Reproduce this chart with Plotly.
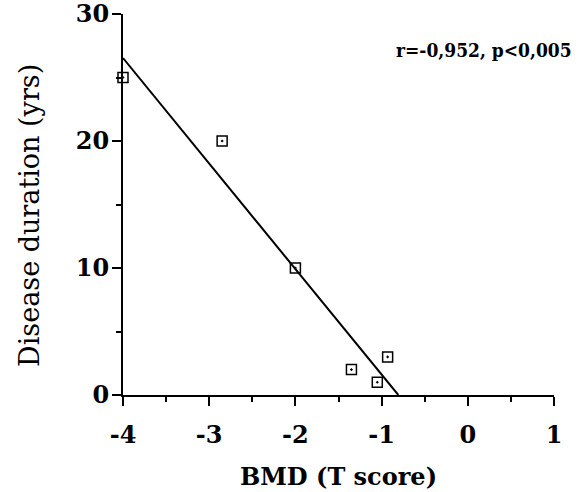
import numpy as np
import plotly.graph_objects as go

# Data
bmd_t_score = [-4.0, -2.85, -2.0, -1.35, -1.05, -0.93]
disease_duration = [25, 20, 10, 2, 1, 3]
x_tick_vals = [-4, -3, -2, -1, 0, 1]
y_tick_vals = [0, 10, 20, 30]
stats_text = "r=-0,952, p<0,005"
x_title = "BMD (T score)"
y_title = "Disease duration (yrs)"

# Least-squares regression line, drawn from x=-4 to where it crosses y=0
slope, intercept = np.polyfit(bmd_t_score, disease_duration, 1)
x0 = -4.0
x1 = -intercept / slope
line_x = [x0, x1]
line_y = [slope * x0 + intercept, 0.0]

FONT = "DejaVu Serif"

fig = go.Figure()
fig.add_trace(go.Scatter(
    x=line_x, y=line_y, mode="lines",
    line=dict(color="black", width=2),
    cliponaxis=False, hoverinfo="skip", showlegend=False,
))
fig.add_trace(go.Scatter(
    x=bmd_t_score, y=disease_duration, mode="markers",
    marker=dict(symbol="square-open-dot", size=10, color="black",
                line=dict(color="black", width=1.5)),
    cliponaxis=False, showlegend=False,
))

fig.add_annotation(
    x=1, y=0.905, xref="paper", yref="paper", xanchor="right", yanchor="middle",
    text=stats_text, showarrow=False,
    font=dict(family="DejaVu Serif Condensed", size=19, color="black", weight="bold"),
    xshift=20,
)

# Y-axis title as a rotated annotation (sits slightly below the axis centre)
fig.add_annotation(
    x=0, y=0.47, xref="paper", yref="paper", xanchor="center", yanchor="middle",
    text=y_title, textangle=-90, showarrow=False,
    font=dict(family=FONT, size=27, color="black", weight="normal"),
    xshift=-93,
)

axis_common = dict(
    showline=True, linecolor="black", linewidth=2,
    ticks="outside", ticklen=9, tickwidth=2, tickcolor="black",
    showgrid=False, zeroline=False, automargin=False, ticklabeloverflow="allow",
    tickfont=dict(family=FONT, size=24, color="black", weight="bold"),
)

fig.update_xaxes(
    range=[-4, 1], tickvals=x_tick_vals, ticktext=[str(v) for v in x_tick_vals],
    minor=dict(dtick=0.5, ticks="outside", ticklen=5, tickwidth=2, tickcolor="black"),
    title_text=x_title, title_standoff=20, ticklabelstandoff=8,
    title_font=dict(family=FONT, size=24, color="black", weight="bold"),
    **axis_common,
)
fig.update_yaxes(
    range=[0, 30], tickvals=y_tick_vals, ticktext=[str(v) for v in y_tick_vals],
    minor=dict(dtick=5, ticks="outside", ticklen=5, tickwidth=2, tickcolor="black"),
    ticklabelstandoff=-2,
    **axis_common,
)

fig.update_layout(
    width=578, height=492,
    margin=dict(l=123, r=24, t=14, b=97),
    plot_bgcolor="white", paper_bgcolor="white",
)

fig.write_html(
    "out.html",
    config={"displayModeBar": False},
    post_script="document.body.style.margin='0';document.body.style.overflow='hidden';",
)
